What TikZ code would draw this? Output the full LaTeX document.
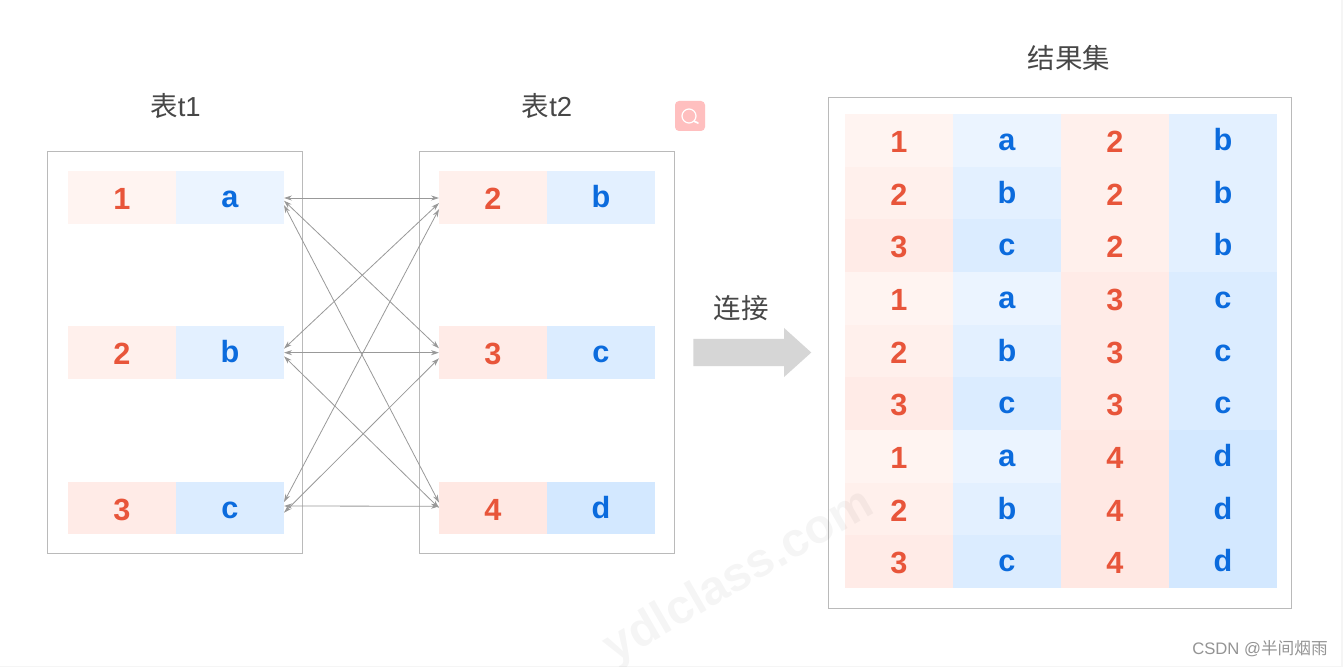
\documentclass[tikz,border=0pt]{standalone}
\usepackage{fontspec}
\setmainfont{Liberation Sans}
\newfontfamily\cjk{Noto Sans CJK SC}
\usetikzlibrary{arrows.meta,positioning,fit,shapes.arrows}
\definecolor{numred}{HTML}{E8553A}
\definecolor{letblue}{HTML}{0B6BDD}
\definecolor{redA}{HTML}{FFF4F1}
\definecolor{redB}{HTML}{FFF0EC}
\definecolor{redC}{HTML}{FFEBE7}
\definecolor{redD}{HTML}{FFE8E3}
\definecolor{blueA}{HTML}{EBF4FF}
\definecolor{blueB}{HTML}{E3F0FF}
\definecolor{blueC}{HTML}{DBECFF}
\definecolor{blueD}{HTML}{D3E8FF}
\tikzset{
  >={Stealth[length=6pt,width=3.8pt]},
  num/.style    ={minimum height=39.5pt, minimum width=81pt, inner sep=0pt, outer sep=0pt, text height=18pt, text depth=0pt, font=\fontsize{23}{24}\selectfont\bfseries, text=numred},
  let/.style    ={minimum height=39.5pt, minimum width=81pt, inner sep=0pt, outer sep=0pt, text height=15pt, text depth=0pt, font=\fontsize{23}{24}\selectfont\bfseries, text=letblue},
  tbox/.style   ={draw=black!27, line width=0.7pt, inner xsep=14.8pt, inner ysep=14.3pt},
  title/.style  ={font=\fontsize{20.6}{24}\selectfont, text=black!72, inner sep=0pt},
  arr/.style    ={<->, draw=black!40, line width=0.6pt},
}
\begin{document}
\begin{tikzpicture}[x=0.75pt, y=-0.75pt, node distance=0pt]
  \useasboundingbox (0,0) rectangle (1343,667);
  \fill[black!4] (0,0) rectangle (1343,667);
  \fill[white] (0,0) rectangle (1341,665.5);

  % table t1
  \node[num, fill=redA, anchor=north west] (a1) at (68,171) {1};
  \node[let, fill=blueA, right=of a1] (a2) {a};
  \node[num, fill=redB, below=77pt of a1] (b1) {2};
  \node[let, fill=blueB, right=of b1] (b2) {b};
  \node[num, fill=redC, below=77pt of b1] (c1) {3};
  \node[let, fill=blueC, right=of c1] (c2) {c};
  \node[tbox, fit=(a1)(c2), xshift=-0.8pt] (t1) {};
  \node[title] (t1name) at (175.5,106) {{\cjk 表}t1};

  % table t2
  \node[num, fill=redB, anchor=north west] (d1) at (439,171) {2};
  \node[let, fill=blueB, right=of d1] (d2) {b};
  \node[num, fill=redC, below=77pt of d1] (e1) {3};
  \node[let, fill=blueC, right=of e1] (e2) {c};
  \node[num, fill=redD, below=77pt of e1] (f1) {4};
  \node[let, fill=blueD, right=of f1] (f2) {d};
  \node[tbox, fit=(d1)(f2)] (t2) {};
  \node[title] (t2name) at (547,106) {{\cjk 表}t2};

  \draw[arr] ([yshift=-0.5pt]a2.east) -- ([yshift=-0.5pt]d1.west);
  \draw[arr] ([yshift=-2.5pt]a2.east) -- ([yshift=3.3pt]e1.west);
  \draw[arr] ([yshift=-5.8pt]a2.east) -- ([yshift=4pt]f1.west);
  \draw[arr] ([yshift=3pt]b2.east) -- ([yshift=-4.3pt]d1.west);
  \draw[arr] (b2.east) -- (e1.west);
  \draw[arr] ([yshift=-2.7pt]b2.east) -- (f1.west);
  \draw[arr] ([yshift=4.5pt]c2.east) -- ([yshift=-8.8pt]d1.west);
  \draw[arr] ([yshift=-3.5pt]c2.east) -- ([yshift=-4.2pt]e1.west);
  \draw[arr] ([yshift=1.5pt]c2.east) -- ([yshift=1.3pt]f1.west);

  % search icon
  \node[fill=red!25!white, rounded corners=3pt, minimum size=22.5pt, inner sep=0pt] (icon) at (690,116) {};
  \node[draw=white, circle, line width=0.9pt, minimum size=10.5pt, inner sep=0pt] (lens) at (689,116) {};
  \coordinate (grip) at (698,123);
  \draw[white, line width=1.3pt, line cap=round] (lens.south east) -- (grip);

  % join arrow
  \node[title, font=\cjk\fontsize{20.6}{24}\selectfont] (joinname) at (741,308) {连接};
  \node[single arrow, fill=black!16, inner sep=10pt, minimum height=88.5pt, single arrow head extend=8.2pt, single arrow tip angle=84, anchor=tail] (join) at (693,352.5) {};

  % result set
  \node[num, fill=redA, anchor=north west] (r11) at (845,114) {1};
  \node[let, fill=blueA, right=of r11] (r12) {a};
  \node[num, fill=redB, right=of r12] (r13) {2};
  \node[let, fill=blueB, right=of r13] (r14) {b};
  \node[num, fill=redB, below=of r11] (r21) {2};
  \node[let, fill=blueB, right=of r21] (r22) {b};
  \node[num, fill=redB, right=of r22] (r23) {2};
  \node[let, fill=blueB, right=of r23] (r24) {b};
  \node[num, fill=redC, below=of r21] (r31) {3};
  \node[let, fill=blueC, right=of r31] (r32) {c};
  \node[num, fill=redB, right=of r32] (r33) {2};
  \node[let, fill=blueB, right=of r33] (r34) {b};
  \node[num, fill=redA, below=of r31] (r41) {1};
  \node[let, fill=blueA, right=of r41] (r42) {a};
  \node[num, fill=redC, right=of r42] (r43) {3};
  \node[let, fill=blueC, right=of r43] (r44) {c};
  \node[num, fill=redB, below=of r41] (r51) {2};
  \node[let, fill=blueB, right=of r51] (r52) {b};
  \node[num, fill=redC, right=of r52] (r53) {3};
  \node[let, fill=blueC, right=of r53] (r54) {c};
  \node[num, fill=redC, below=of r51] (r61) {3};
  \node[let, fill=blueC, right=of r61] (r62) {c};
  \node[num, fill=redC, right=of r62] (r63) {3};
  \node[let, fill=blueC, right=of r63] (r64) {c};
  \node[num, fill=redA, below=of r61] (r71) {1};
  \node[let, fill=blueA, right=of r71] (r72) {a};
  \node[num, fill=redD, right=of r72] (r73) {4};
  \node[let, fill=blueD, right=of r73] (r74) {d};
  \node[num, fill=redB, below=of r71] (r81) {2};
  \node[let, fill=blueB, right=of r81] (r82) {b};
  \node[num, fill=redD, right=of r82] (r83) {4};
  \node[let, fill=blueD, right=of r83] (r84) {d};
  \node[num, fill=redC, below=of r81] (r91) {3};
  \node[let, fill=blueC, right=of r91] (r92) {c};
  \node[num, fill=redD, right=of r92] (r93) {4};
  \node[let, fill=blueD, right=of r93] (r94) {d};
  \node[draw=black!27, line width=0.7pt, minimum width=347.25pt, minimum height=383.25pt, inner sep=0pt] (res) at (1059.5,352.5) {};
  \node[title, font=\cjk\fontsize{20.6}{24}\selectfont] (resname) at (1069,58) {结果集};

  % watermark
  \node[rotate=30, anchor=base, font=\fontsize{36}{40}\selectfont\bfseries, text=black, text opacity=0.04] (mark) at (745.5,588) {ydlclass.com};

  \node[font=\fontsize{12.5}{15}\selectfont, text=black!42, inner sep=0pt, anchor=east] (csdn) at (1328,649) {CSDN @{\cjk 半间烟雨}};
\end{tikzpicture}
\end{document}
